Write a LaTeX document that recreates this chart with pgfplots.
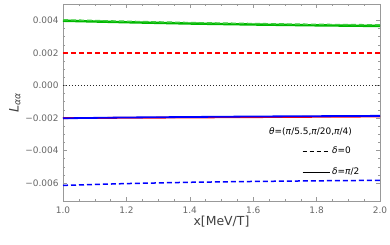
\documentclass[border=0pt]{standalone}
\usepackage{fontspec}
\setmainfont{DejaVu Sans}
\usepackage{pgfplots}
\pgfplotsset{compat=1.18}
\definecolor{mgreen}{rgb}{0,0.72,0}
\definecolor{mgreenl}{rgb}{0.25,0.8,0.25}
\definecolor{framegray}{gray}{0.6}
\definecolor{labgray}{gray}{0.4}
\begin{document}
\begin{tikzpicture}
\begin{axis}[
  scale only axis, width=317bp, height=197bp,
  xmin=1, xmax=2, ymin=-0.0071, ymax=0.0050,
  axis line style={framegray},
  every tick/.style={framegray},
  tick align=inside,
  major tick length=4bp, minor tick length=2bp,
  xtick={1,1.2,1.4,1.6,1.8,2.0},
  xticklabels={1.0,1.2,1.4,1.6,1.8,2.0},
  minor x tick num=3,
  ytick={-0.006,-0.004,-0.002,0,0.002,0.004},
  yticklabels={−0.006,−0.004,−0.002,0.000,0.002,0.004},
  minor y tick num=3,
  scaled y ticks=false, scaled x ticks=false,
  tick label style={font=\fontsize{9}{10}\selectfont, text=labgray},
  xticklabel style={yshift=-2bp},
  yticklabel style={xshift=-1bp},
  xlabel={x[MeV/T]},
  xlabel style={font=\fontsize{12.5}{14}\selectfont, text=black!75, yshift=4bp},
  ylabel={\textit{L}\textsubscript{\textit{αα}}},
  ylabel style={font=\fontsize{13}{15}\selectfont, text=black!75, yshift=-2bp},
  legend image code/.code={\draw[#1] (0bp,0bp) -- (27bp,0bp);},
  legend style={draw=none, fill=none, font=\fontsize{9}{10}\selectfont,
    at={(rel axis cs:0.754,0.285)}, anchor=north west, row sep=9bp,
    inner sep=0pt, cells={anchor=west}},
]
% green
\addplot[mgreen, line width=2.4bp, forget plot] coordinates {(1.0,0.00397) (1.2,0.00388) (1.4,0.00380) (1.6,0.00374) (1.8,0.00369) (2.0,0.00365)};
\addplot[mgreenl, line width=1.4bp, dash pattern=on 5bp off 3bp, forget plot] coordinates {(1.0,0.00403) (1.2,0.00394) (1.4,0.00386) (1.6,0.00380) (1.8,0.00375) (2.0,0.00372)};
% red
\addplot[red, line width=1.5bp, dash pattern=on 5bp off 3bp, forget plot] coordinates {(1.0,0.00200) (1.2,0.00200) (1.4,0.00200) (1.6,0.00200) (1.8,0.00200) (2.0,0.00200)};
\addplot[red, line width=1.8bp, forget plot] coordinates {(1.0,-0.00201) (1.2,-0.00199) (1.4,-0.00197) (1.6,-0.00195) (1.8,-0.00193) (2.0,-0.00191)};
% black zero
\addplot[black!85, line width=1.8bp, dash pattern=on 1.5bp off 1.5bp, forget plot] coordinates {(1.0,0) (2.0,0)};
% blue
\addplot[blue, line width=1.8bp, forget plot] coordinates {(1.0,-0.00202) (1.2,-0.00197) (1.4,-0.00194) (1.6,-0.00191) (1.8,-0.00189) (2.0,-0.00187)};
\addplot[blue, line width=1.5bp, dash pattern=on 5bp off 3bp, forget plot] coordinates {(1.0,-0.00614) (1.2,-0.00603) (1.4,-0.00595) (1.6,-0.00590) (1.8,-0.00586) (2.0,-0.00583)};
\addlegendimage{black, line width=0.9bp, dash pattern=on 4bp off 3bp}
\addlegendentry{\textit{δ}=0}
\addlegendimage{black, line width=0.9bp}
\addlegendentry{\textit{δ}=\textit{π}/2}
\node[font=\fontsize{9}{10}\selectfont, anchor=west, inner sep=0pt] at (rel axis cs:0.650,0.350) {\textit{θ}=(\textit{π}/5.5,\textit{π}/20,\textit{π}/4)};
\end{axis}
\pgfresetboundingbox
\path[use as bounding box] (current axis.south west) ++(-63bp,-44bp) rectangle ++(390bp,245bp);
\end{tikzpicture}
\end{document}
